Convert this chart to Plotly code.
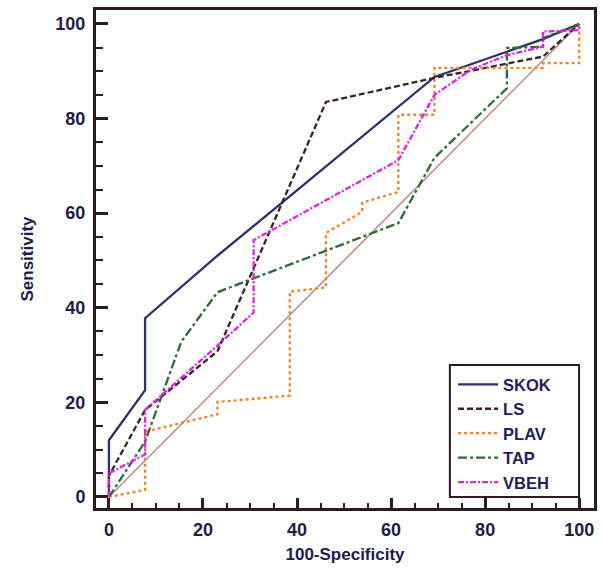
import plotly.graph_objects as go

# ROC curves: 100-Specificity (x) vs Sensitivity (y), in percent
skok_x = [0, 0, 7.69, 7.69, 23.08, 69.23, 92.31, 100]
skok_y = [0, 12, 22.6, 37.8, 51, 88.8, 96.8, 100]

ls_x = [0, 0, 7.69, 23.08, 46.15, 69.23, 92.31, 100]
ls_y = [0, 4.5, 18.4, 30.8, 83.5, 88.6, 93.1, 100]

plav_x = [0, 7.69, 7.69, 23.08, 23.08, 38.46, 38.46, 46.15, 46.15, 53.85, 53.85,
          61.54, 61.54, 69.23, 69.23, 92.31, 92.31, 100, 100]
plav_y = [0, 1.5, 13.8, 17.5, 20.1, 21.4, 43.4, 44.3, 55.8, 60.3, 62.2,
          64.5, 80.8, 80.8, 90.7, 90.7, 91.7, 91.7, 100]

tap_x = [0, 7.69, 15.38, 23.08, 61.54, 69.23, 84.62, 84.62, 92.31, 92.31, 100]
tap_y = [0, 11.7, 32.8, 43.3, 57.9, 71.7, 86.4, 94.9, 95.2, 97, 100]

vbeh_x = [0, 0, 7.69, 7.69, 23.08, 30.77, 30.77, 61.54, 69.23, 76.92, 84.62,
          92.31, 92.31, 100, 100]
vbeh_y = [0, 5, 9, 18.4, 32, 39, 54.3, 71.2, 85, 90.3, 93.4,
          95.2, 98.4, 98.7, 100]

diag_x = [0, 100]
diag_y = [0, 100]

series = [
    ("SKOK", skok_x, skok_y, "#2d3166", "solid"),
    ("LS", ls_x, ls_y, "#3d2320", "6px,3px"),
    ("PLAV", plav_x, plav_y, "#f5801e", "dot"),
    ("TAP", tap_x, tap_y, "#2f6a35", "dashdot"),
    ("VBEH", vbeh_x, vbeh_y, "#e51ee5", "6px,2px,2px,2px"),
]

fig = go.Figure()
fig.add_trace(go.Scatter(x=diag_x, y=diag_y, mode="lines", showlegend=False,
                         line=dict(color="#b98a82", width=1.5), hoverinfo="skip"))
for name, xs, ys, color, dash in series:
    fig.add_trace(go.Scatter(x=xs, y=ys, mode="lines", name=name,
                             line=dict(color=color, dash=dash, width=2.3)))

frame = "#2b1d1d"
navy = "#1c1c4c"
fam = "Arial, Liberation Sans"
tickfont = dict(family=fam, size=18, color=navy, weight="bold")
axis_common = dict(
    showline=True, linecolor=frame, linewidth=3, mirror=True,
    showgrid=False, zeroline=False,
    ticks="inside", tickcolor=frame, tickwidth=3,
    tickfont=tickfont, dtick=20, tick0=0,
)

fig.update_xaxes(
    range=[-2.75, 103.15], ticklen=10, ticklabelstandoff=3,
    minor=dict(ticks="inside", ticklen=5, tickwidth=2, tickcolor=frame, dtick=5, showgrid=False),
    title=dict(text="100-Specificity", font=dict(family=fam, size=17, color=navy, weight="bold"), standoff=10),
    **axis_common,
)
fig.update_yaxes(
    range=[-2.33, 102.95], ticklen=12, ticklabelstandoff=4,
    minor=dict(ticks="inside", ticklen=7, tickwidth=2, tickcolor=frame, dtick=5, showgrid=False),
    title=dict(text="Sensitivity", font=dict(family=fam, size=17, color=navy, weight="bold"), standoff=18),
    **axis_common,
)

# framed white panel behind the legend entries
fig.add_shape(type="rect", xref="paper", yref="paper",
              x0=0.7106, x1=0.970, y0=0.0221, y1=0.2871,
              fillcolor="white", line=dict(color=frame, width=2), layer="above")

fig.update_layout(
    width=603, height=572,
    margin=dict(l=96, r=6, t=10, b=64),
    paper_bgcolor="white", plot_bgcolor="white",
    legend=dict(
        x=0.717, y=0.283, xanchor="left", yanchor="top",
        borderwidth=0, bgcolor="rgba(0,0,0,0)",
        font=dict(family=fam, size=16.5, color="#1e1e5a", weight="bold"),
        itemwidth=40, tracegroupgap=0,
    ),
    font=dict(family=fam, color=navy),
    showlegend=True,
)

fig.write_html("out.html")
